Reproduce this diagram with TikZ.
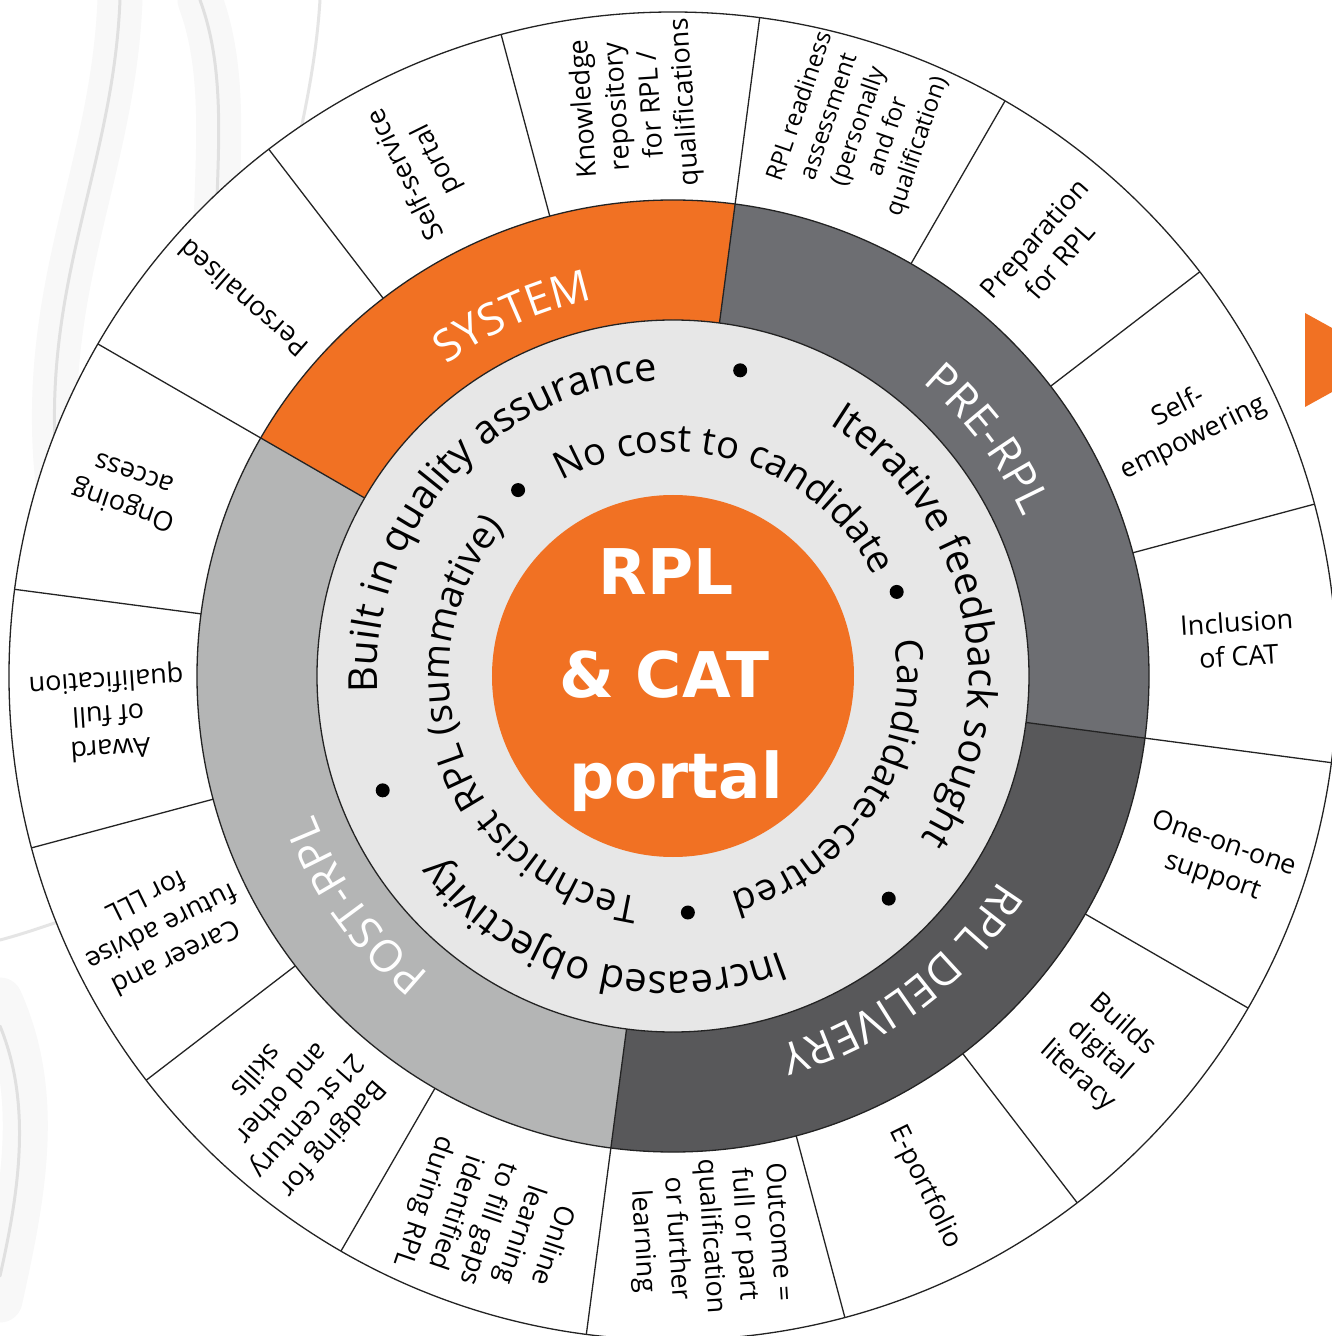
\documentclass[tikz,border=0pt]{standalone}
\usepackage{fontspec}
\setmainfont{Open Sans}
\newfontfamily\labfont{Open Sans}
\newfontfamily\ctrfont{DejaVu Sans}
\usetikzlibrary{decorations.text}
\definecolor{rplorange}{RGB}{241,113,35}
\definecolor{pregray}{RGB}{109,110,114}
\definecolor{delgray}{RGB}{88,88,90}
\definecolor{postgray}{RGB}{180,181,181}
\definecolor{ringgray}{RGB}{231,231,231}
\definecolor{linegray}{RGB}{35,35,35}
\definecolor{smoke}{RGB}{140,140,140}
\def\fOut{\labfont\fontsize{40}{40}\selectfont}
\def\fIn{\labfont\fontsize{38}{38}\selectfont}
\def\fMid{\labfont\fontsize{44}{44}\selectfont}
\tikzset{
  ringline/.style={draw=linegray, line width=1.3pt},
  lab/.style={align=center, inner sep=0pt, font=\labfont\fontsize{27}{34}\selectfont, text=black},
  labsmall/.style={align=center, inner sep=0pt, font=\labfont\fontsize{24}{31}\selectfont, text=black},
  ctr/.style={inner sep=0pt, anchor=base, text=white, font=\ctrfont\bfseries\fontsize{63}{63}\selectfont},
  bullet/.style={fill=black},
  haze/.style={draw=smoke, line cap=round, line width=45pt, opacity=0.06},
  streak/.style={draw=smoke, line cap=round, line width=3pt, opacity=0.22}
}
\begin{document}
\begin{tikzpicture}[x=1pt,y=1pt]
\clip (-673,-660) rectangle (659,676);
\fill[white] (-673,-660) rectangle (659,676);
% smoke in the background
\draw[haze] (-473,676) .. controls (-430,560) and (-480,420) .. (-443,256);
\draw[haze] (-553,676) .. controls (-560,500) and (-640,380) .. (-613,176);
\draw[haze] (-673,-324) .. controls (-630,-420) and (-650,-520) .. (-673,-624);
\draw[streak] (-473,676) .. controls (-430,560) and (-480,420) .. (-443,256);
\draw[streak] (-353,676) .. controls (-360,560) and (-400,450) .. (-413,356);
\draw[streak] (-553,676) .. controls (-560,500) and (-640,380) .. (-613,176);
\draw[streak] (-673,-264) .. controls (-620,-250) and (-580,-230) .. (-533,-224);
\draw[streak] (-673,-350) .. controls (-640,-430) and (-655,-520) .. (-673,-600);
% arrow head at right edge
\fill[rplorange] (632,363) -- (717,316) -- (632,269) -- cycle;
% outer ring
\draw[ringline, fill=white] (0,0) circle[radius=664];
\foreach \k in {0,...,15}
  \draw[ringline] ({82.5+22.5*\k}:476) -- ({82.5+22.5*\k}:664);
% middle ring sectors
\fill[rplorange] (82.5:356) arc[start angle=82.5, end angle=150, radius=356] -- (150:476) arc[start angle=150, end angle=82.5, radius=476] -- cycle;
\fill[pregray] (-7.5:356) arc[start angle=-7.5, end angle=82.5, radius=356] -- (82.5:476) arc[start angle=82.5, end angle=-7.5, radius=476] -- cycle;
\fill[delgray] (-97.5:356) arc[start angle=-97.5, end angle=-7.5, radius=356] -- (-7.5:476) arc[start angle=-7.5, end angle=-97.5, radius=476] -- cycle;
\fill[postgray] (150:356) arc[start angle=150, end angle=262.5, radius=356] -- (262.5:476) arc[start angle=262.5, end angle=150, radius=476] -- cycle;
\draw[ringline] (0,0) circle[radius=476];
\draw[ringline, fill=ringgray] (0,0) circle[radius=356];
\foreach \a in {82.5,150,262.5,352.5}
  \draw[ringline] (\a:356) -- (\a:476);
% centre
\fill[rplorange] (0,0) circle[radius=181];
\node[ctr] (rpl) at (-7,81) {RPL};
\node[ctr] (cat) at (-9,-21) {\& CAT};
\node[ctr] (portal) at (3,-122) {portal};
% middle ring labels
\path[decorate, decoration={text along path, text align=center, text color=white, text={|\fMid|SYSTEM}}]
  (174:385) arc[start angle=174, end angle=54, radius=385];
\path[decorate, decoration={text along path, text align=center, text color=white, text={|\fMid|PRE-RPL}}]
  (97:385) arc[start angle=97, end angle=-23, radius=385];
\path[decorate, decoration={text along path, text align=center, text color=white, text={|\fMid|RPL DELIVERY}}]
  (7:385) arc[start angle=7, end angle=-113, radius=385];
\path[decorate, decoration={text along path, text align=center, text color=white, text={|\fMid|POST-RPL}}]
  (276:385) arc[start angle=276, end angle=156, radius=385];
% inner ring: outer lane
\path[decorate, decoration={text along path, text align=center, text={|\fOut|Built in quality assurance}}]
  (208:296) arc[start angle=208, end angle=68, radius=296];
\path[decorate, decoration={text along path, text align=center, text={|\fOut|Iterative feedback sought}}]
  (82.5:296) arc[start angle=82.5, end angle=-57.5, radius=296];
\path[decorate, decoration={text along path, text align=center, text={|\fOut|Increased objectivity}}]
  (-35.5:296) arc[start angle=-35.5, end angle=-175.5, radius=296];
% inner ring: inner lane
\path[decorate, decoration={text along path, text align=center, text={|\fIn|No cost to candidate}}]
  (143:224) arc[start angle=143, end angle=3, radius=224];
\path[decorate, decoration={text along path, text align=center, text={|\fIn|Candidate-centred}}]
  (27:224) arc[start angle=27, end angle=-93, radius=224];
\path[decorate, decoration={text along path, text align=center, text={|\fIn|Technicist RPL (summative)}}]
  (270:224) arc[start angle=270, end angle=130, radius=224];
% bullets
\fill[bullet] (77.6:313) circle[radius=7];
\fill[bullet] (-45.9:310) circle[radius=7];
\fill[bullet] (201.5:312) circle[radius=7];
\fill[bullet] (129.8:242) circle[radius=7];
\fill[bullet] (20.6:239) circle[radius=7];
\fill[bullet] (-86.4:237) circle[radius=7];
% outer labels
\node[lab, rotate=93.75] (knowledge) at (93.75:572) {Knowledge\\repository\\for RPL /\\qualifications};
\node[lab, rotate=116.25] (selfservice) at (116.25:568) {Self-service\\portal};
\node[lab, rotate=138.75] (personalised) at (138.75:572) {Personalised};
\node[lab, rotate=161.25] (ongoing) at (161.25:575) {Ongoing\\access};
\node[lab, rotate=183.75] (award) at (183.75:566) {Award\\of full\\qualification};
\node[lab, rotate=206.25] (career) at (206.25:570) {Career and\\future advise\\for LLL};
\node[lab, rotate=228.75] (badging) at (228.75:572) {Badging for\\21st century\\and other\\skills};
\node[lab, rotate=251.25] (online) at (251.25:578) {Online\\learning\\to fill gaps\\identified\\during RPL};
\node[lab, rotate=273.75] (outcome) at (273.75:562) {Outcome =\\full or part\\qualification\\or further\\learning};
\node[lab, rotate=296.25] (eportfolio) at (296.25:570) {E-portfolio};
\node[lab, rotate=318.75] (builds) at (318.75:568) {Builds\\digital\\literacy};
\node[lab, rotate=341.25] (oneonone) at (341.25:576) {One-on-one\\support};
\node[lab, rotate=3.75] (inclusion) at (3.75:566) {Inclusion\\of CAT};
\node[lab, rotate=26.25] (selfemp) at (26.25:572) {Self-\\empowering};
\node[lab, rotate=48.75] (prep) at (48.75:567) {Preparation\\for RPL};
\node[labsmall, rotate=71.25] (readiness) at (71.25:580) {RPL readiness\\assessment\\(personally\\and for\\qualification)};
\end{tikzpicture}
\end{document}
